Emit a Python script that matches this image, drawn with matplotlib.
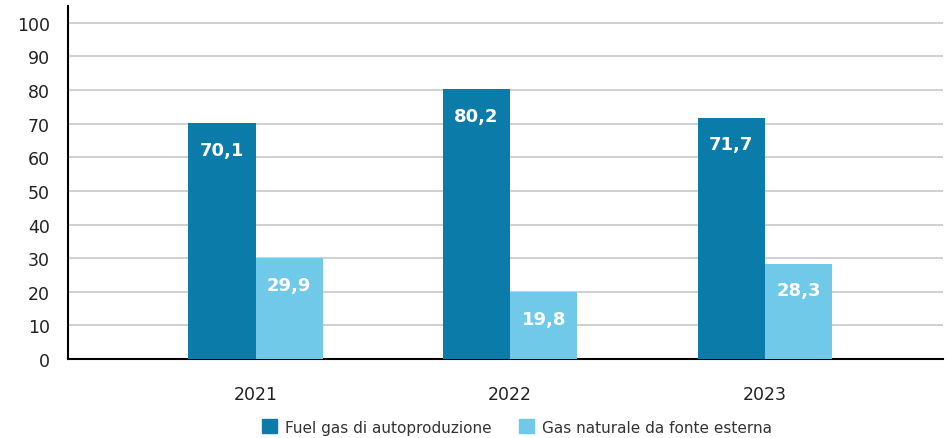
import numpy as np
import matplotlib.pyplot as plt
from matplotlib.patches import Patch

# data
years = ['2021', '2022', '2023']
fuel_gas = [70.1, 80.2, 71.7]
gas_naturale = [29.9, 19.8, 28.3]
series_names = ['Fuel gas di autoproduzione', 'Gas naturale da fonte esterna']

dark = '#0b7ca9'
light = '#70c9e8'

plt.rcParams['font.family'] = ['DejaVu Sans']

fig = plt.figure(figsize=(9.47, 4.39), dpi=100)
ax = fig.add_axes([68/947, 1 - 360/439, (943 - 68)/947, (360 - 7)/439])

x = np.arange(len(years))
w = 0.264
b1 = ax.bar(x - w/2, fuel_gas, w, color=dark, zorder=3)
b2 = ax.bar(x + w/2, gas_naturale, w, color=light, zorder=3)

for bars, vals in [(b1, fuel_gas), (b2, gas_naturale)]:
    for r, v in zip(bars, vals):
        ax.text(r.get_x() + r.get_width()/2, v - 7.8, f'{v:.1f}'.replace('.', ','),
                ha='center', va='center', color='white', fontsize=13,
                fontweight='bold', zorder=4)

ax.set_xlim(-0.737, 2.70)
ax.set_ylim(0, 105)
ax.set_yticks(range(0, 101, 10))
ax.set_xticks(x)
ax.set_xticklabels(years)
ax.tick_params(axis='both', length=0, labelsize=12.5, colors='#222222')
ax.tick_params(axis='y', pad=13)
ax.tick_params(axis='x', pad=19)
ax.grid(axis='y', color='#c8c8c8', linewidth=1.2, zorder=0)
for s in ['top', 'right']:
    ax.spines[s].set_visible(False)
ax.spines['left'].set_linewidth(1.5)
ax.spines['bottom'].set_linewidth(1.5)

handles = [Patch(color=dark), Patch(color=light)]
fig.legend(handles, series_names, loc='center', bbox_to_anchor=(517/947, 1 - 428/439),
           ncol=2, frameon=False, fontsize=11, handlelength=1.0, handleheight=1.0,
           handletextpad=0.5, columnspacing=1.8, labelcolor='#333333')

fig.savefig('out.png', dpi=100)
